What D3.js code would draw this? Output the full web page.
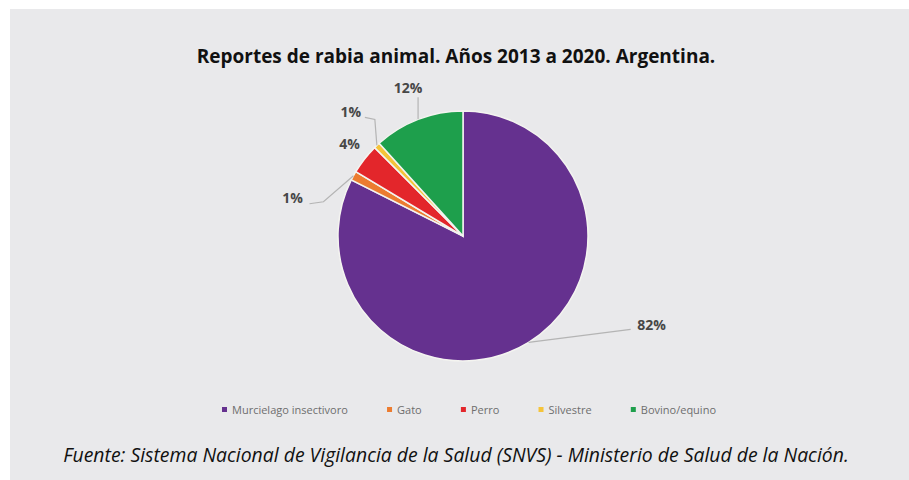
<!DOCTYPE html>
<html>
<head>
<meta charset="utf-8">
<script src="https://cdn.jsdelivr.net/npm/d3@7"></script>
<style>
	body { margin: 0; background: #ffffff; }
	svg { display: block; }
</style>
</head>
<body>
<div id="chart"></div>
<script>

// data
var categories = ["Murcielago insectivoro", "Gato", "Perro", "Silvestre", "Bovino/equino"];
var values = [82.4, 1.2, 3.9, 0.8, 11.7];
var pctLabels = ["82%", "1%", "4%", "1%", "12%"];
var colors = ["#65318f", "#ec7c30", "#e3262b", "#f5c43a", "#1e9f4c"];

var title = "Reportes de rabia animal. Años 2013 a 2020. Argentina.";
var source = "Fuente: Sistema Nacional de Vigilancia de la Salud (SNVS) - Ministerio de Salud de la Nación.";

// set the specs
var width = 909;
var height = 480;
var cx = 463;
var cy = 236;
var radius = 125;
var legendLeft = 222;
var legendRight = 716;

// label nudges from the slice edge (layout only)
var labelNudge = [[123, -17], [-61, 22], [-15, -15], [-26, -33], [-10, -31]];
// leader line bends, relative to the slice edge
var leaderBends = [
	[[102, -13]],
	[[-30, 26], [-44, 28]],
	[],
	[[-2, -26], [-12, -28]],
	[[0, -22]]
];

var svg = d3.select("#chart")
	.append("svg")
	.attr("width", width)
	.attr("height", height);

// grey panel
svg.append("rect")
	.attr("x", 10)
	.attr("y", 9)
	.attr("width", width - 10)
	.attr("height", height - 9)
	.attr("fill", "#e9e9eb");

svg.append("text")
	.attr("x", 456)
	.attr("y", 63)
	.attr("text-anchor", "middle")
	.attr("font-family", "'Open Sans', sans-serif")
	.attr("font-weight", "bold")
	.attr("font-size", 19)
	.attr("fill", "#111111")
	.text(title);

var pie = d3.pie()
	.sort(null)
	.value(function(d){ return d; });

var arcs = pie(values);

var arc = d3.arc()
	.innerRadius(0)
	.outerRadius(radius);

var g = svg.append("g")
	.attr("transform", "translate(" + cx + "," + cy + ")");

g.selectAll("path.slice")
	.data(arcs)
	.enter()
	.append("path")
	.attr("class", "slice")
	.attr("d", arc)
	.attr("fill", function(d, i){ return colors[i]; })
	.attr("stroke", "#f4f4f0")
	.attr("stroke-width", 1.5);

// point on the rim at the middle of each slice
function rimPoint(d){
	var a = (d.startAngle + d.endAngle) / 2;
	return [Math.sin(a) * radius, -Math.cos(a) * radius];
}

var line = d3.line();

g.selectAll("path.leader")
	.data(arcs)
	.enter()
	.append("path")
	.attr("class", "leader")
	.attr("d", function(d, i){
		if (leaderBends[i].length == 0) return null;
		var p = rimPoint(d);
		var pts = [p];
		leaderBends[i].forEach(function(b){
			pts.push([p[0] + b[0], p[1] + b[1]]);
		});
		return line(pts);
	})
	.attr("fill", "none")
	.attr("stroke", "#b4b4b4")
	.attr("stroke-width", 1.2);

g.selectAll("text.pct")
	.data(arcs)
	.enter()
	.append("text")
	.attr("class", "pct")
	.attr("x", function(d, i){ return rimPoint(d)[0] + labelNudge[i][0]; })
	.attr("y", function(d, i){ return rimPoint(d)[1] + labelNudge[i][1]; })
	.attr("dy", "0.35em")
	.attr("text-anchor", "middle")
	.attr("font-family", "'Open Sans', sans-serif")
	.attr("font-weight", "bold")
	.attr("font-size", 14)
	.attr("fill", "#474747")
	.text(function(d, i){ return pctLabels[i]; });

// legend, spread to fill its width
var legend = svg.append("g")
	.attr("transform", "translate(" + legendLeft + ",410)");

var items = legend.selectAll("g.item")
	.data(categories)
	.enter()
	.append("g")
	.attr("class", "item");

items.append("rect")
	.attr("x", 0)
	.attr("y", -3)
	.attr("width", 5)
	.attr("height", 5)
	.attr("fill", function(d, i){ return colors[i]; });

items.append("text")
	.attr("x", 10)
	.attr("dy", "0.35em")
	.attr("font-family", "'Open Sans', sans-serif")
	.attr("font-size", 11)
	.attr("fill", "#6e6e6e")
	.text(function(d){ return d; });

var widths = [];
items.select("text").each(function(){ widths.push(10 + this.getComputedTextLength()); });
var gap = (legendRight - legendLeft - d3.sum(widths)) / (categories.length - 1);
var lx = 0;
items.attr("transform", function(d, i){
	var x = lx;
	lx += widths[i] + gap;
	return "translate(" + x + ",0)";
});

svg.append("text")
	.attr("x", 456)
	.attr("y", 462)
	.attr("text-anchor", "middle")
	.attr("font-family", "'Open Sans', sans-serif")
	.attr("font-style", "italic")
	.attr("font-size", 19.4)
	.attr("fill", "#111111")
	.text(source);

</script>
</body>
</html>
